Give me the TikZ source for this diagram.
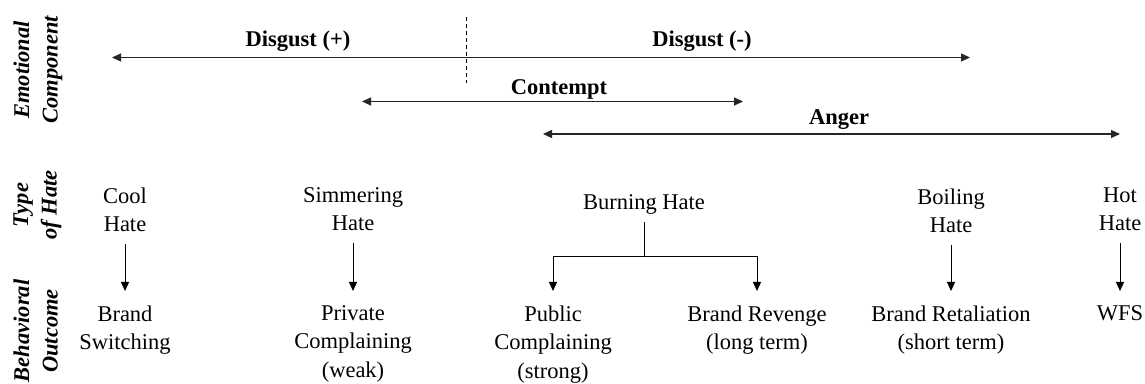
\documentclass[tikz,border=0pt]{standalone}
\usepackage{fontspec}
\setmainfont{Liberation Serif}
\usetikzlibrary{arrows.meta, positioning}

\begin{document}
\begin{tikzpicture}[
    x=0.5pt, y=-0.5pt,
    every node/.style={font=\fontsize{11.25}{14.25}\selectfont, inner sep=0pt, align=center},
    emo/.style={font=\fontsize{11.25}{14.25}\selectfont\bfseries},
    side/.style={font=\fontsize{11.25}{14.25}\selectfont\bfseries\itshape, rotate=90, anchor=north},
    hate/.style={anchor=north},
    span/.style={{Triangle[length=4.5pt,width=4pt]}-{Triangle[length=4.5pt,width=4pt]}, line width=0.6pt, black!85},
    flow/.style={-{Triangle[length=4.5pt,width=4pt]}, line width=0.5pt, shorten <=6pt, shorten >=7pt}
]
\useasboundingbox (0,0) rectangle (1145,384);

% row titles
\node[side] (emotitle) at (13,70) {Emotional\\Component};
\node[side] (typetitle) at (13,205) {Type\\of Hate};
\node[side] (outtitle) at (13,331) {Behavioral\\Outcome};

% emotional component
\coordinate (disgL) at (112,57.5);
\coordinate (disgR) at (970,57.5);
\coordinate (contL) at (362,101.5);
\coordinate (contR) at (743,101.5);
\coordinate (angL) at (543,134);
\coordinate (angR) at (1120,134);
\coordinate (sepTop) at (466,17);
\coordinate (sepBot) at (466,83);

\node[emo] (disgpos) at (298,41) {Disgust (+)};
\node[emo] (disgneg) at (702,41) {Disgust (-)};
\node[emo] (contempt) at (559,89) {Contempt};
\node[emo] (anger) at (839,120) {Anger};

\draw[span] (disgL) -- (disgR);
\draw[span] (contL) -- (contR);
\draw[span] (angL) -- (angR);
\draw[line width=0.4pt, dash pattern=on 2pt off 1.5pt] (sepTop) -- (sepBot);

% type of hate
\node[hate] (cool) at (125,187) {Cool\\Hate};
\node[hate] (simmer) at (353,187) {Simmering\\Hate};
\node[hate] (burning) at (644,194) {Burning Hate};
\node[hate] (boiling) at (951,188) {Boiling\\Hate};
\node[hate] (hot) at (1120,187) {Hot\\Hate};

% behavioral outcome
\node[hate] (switching) at (125,305) {Brand\\Switching};
\node[hate] (private) at (353,305) {Private\\Complaining\\(weak)};
\node[hate] (public) at (553,305) {Public\\Complaining\\(strong)};
\node[hate] (revenge) at (757,305) {Brand Revenge\\(long term)};
\node[hate] (retaliation) at (951,305) {Brand Retaliation\\(short term)};
\node[hate] (wfs) at (1120,305) {WFS};

\draw[flow] (cool) -- (switching);
\draw[flow] (simmer) -- (private);
\draw[flow] (boiling) -- (retaliation);
\draw[flow] (hot) -- (wfs);

\coordinate (fork) at (644,257);
\draw[line width=0.5pt, shorten <=3.8pt] (burning) -- (fork);
\draw[flow, shorten <=0pt] (fork) -| (public);
\draw[flow, shorten <=0pt] (fork) -| (revenge);
\end{tikzpicture}
\end{document}
